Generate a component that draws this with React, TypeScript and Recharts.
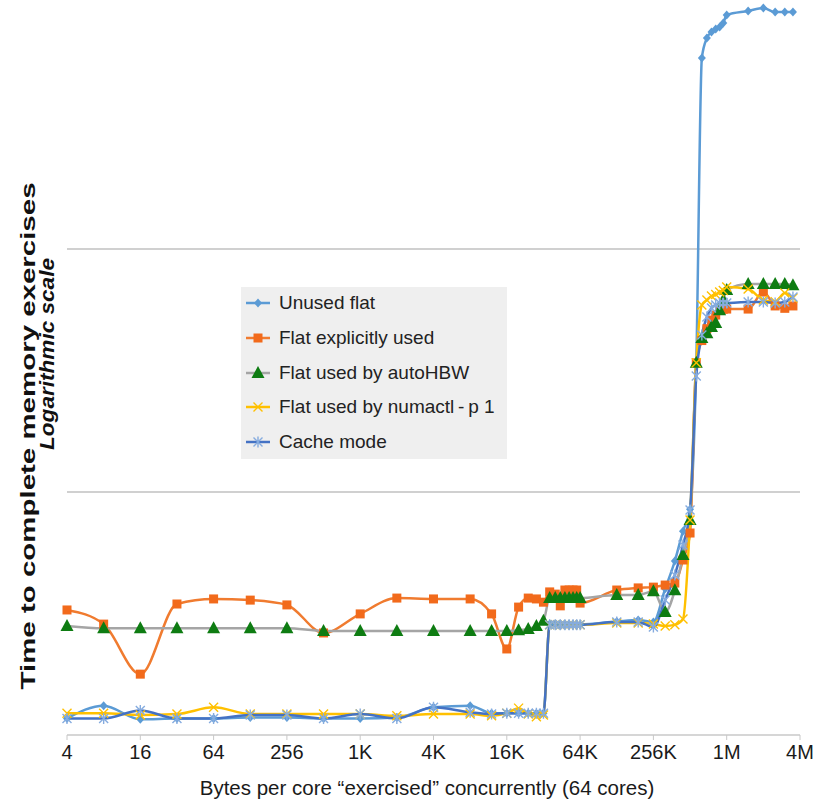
import React from 'react';
import { LineChart, Line, XAxis, YAxis, ReferenceLine, Legend } from 'recharts';

document.body.style.margin = '0';

// bytes per core (x), shared by every series
const sizes = [
  4, 8, 16, 32, 64, 128, 256, 512, 1024, 2048, 4096, 8192, 12288, 16384, 20480, 24576, 28672, 32768,
  36864, 40960, 45056, 49152, 53248, 57344, 61440, 65536, 131072, 196608, 262144, 327680, 393216,
  458752, 524288, 589824, 655360, 720896, 786432, 851968, 917504, 983040, 1048576, 1572864, 2097152,
  2621440, 3145728, 3670016,
];

const unusedFlat = [
  1.17, 1.32, 1.16, 1.17, 1.17, 1.18, 1.18, 1.17, 1.17, 1.18, 1.3, 1.32, 1.23, 1.23, 1.23, 1.23, 1.23, 1.23,
  2.86, 2.86, 2.85, 2.85, 2.85, 2.85, 2.85, 2.85, 2.93, 2.97, 2.92, 4.0, 5.2, 6.9, 8.5, 34, 611, 738, 782,
  804, 820, 851, 918, 954, 981, 944, 944, 944,
];
const explicitUsed = [
  3.27, 2.86, 1.78, 3.46, 3.63, 3.59, 3.43, 2.63, 3.15, 3.66, 3.63, 3.63, 3.15, 2.26, 3.36, 3.66, 3.63, 3.52,
  3.88, 3.8, 3.4, 3.95, 3.95, 3.95, 3.95, 3.49, 3.95, 4.03, 4.06, 4.14, 4.22, 5.25, 6.78, 34, 42, 47, 51,
  53.5, 56, 56.5, 56.6, 56.6, 66.5, 58.3, 57, 58.3,
];
const autoHbw = [
  2.81, 2.75, 2.75, 2.75, 2.75, 2.75, 2.75, 2.68, 2.68, 2.68, 2.68, 2.68, 2.68, 2.68, 2.7, 2.73, 2.81, 2.95,
  3.66, 3.66, 3.66, 3.66, 3.66, 3.66, 3.66, 3.66, 3.77, 3.77, 3.9, 3.21, 3.94, 5.5, 7.67, 34, 43, 45, 47.8,
  49.6, 56, 61.7, 67.8, 71.8, 71.8, 71.8, 71.8, 71,
];
const numactl = [
  1.23, 1.23, 1.21, 1.22, 1.3, 1.22, 1.22, 1.22, 1.22, 1.2, 1.22, 1.22, 1.2, 1.23, 1.29, 1.22, 1.19, 1.21,
  2.84, 2.84, 2.84, 2.84, 2.84, 2.84, 2.84, 2.84, 2.89, 2.89, 2.86, 2.81, 2.84, 3.0, 7.67, 34, 58.8, 61.7, 64,
  65, 66.5, 67.5, 69.8, 68.4, 61.7, 60.6, 65.9, 62.9,
];
const cacheMode = [
  1.17, 1.17, 1.26, 1.17, 1.17, 1.21, 1.21, 1.17, 1.22, 1.17, 1.3, 1.24, 1.22, 1.23, 1.23, 1.23, 1.23, 1.23,
  2.84, 2.84, 2.84, 2.84, 2.84, 2.84, 2.84, 2.84, 2.92, 2.92, 2.78, 3.59, 4.55, 6.05, 8.43, 30, 44.3, 52.5,
  57.2, 58.8, 60, 60, 60, 60.5, 60.5, 60, 60.5, 63.4,
];

const tickValues = [4, 16, 64, 256, 1024, 4096, 16384, 65536, 262144, 1048576, 4194304];
const tickLabels = ['4', '16', '64', '256', '1K', '4K', '16K', '64K', '256K', '1M', '4M'];

const rows = sizes.map((x, i) => ({
  x,
  unused: unusedFlat[i],
  explicit: explicitUsed[i],
  autohbw: autoHbw[i],
  numactl: numactl[i],
  cache: cacheMode[i],
}));

type Shape = 'diamond' | 'square' | 'triangle' | 'cross' | 'star';

const series: { key: string; name: string; stroke: string; marker: string; shape: Shape }[] = [
  { key: 'unused', name: 'Unused flat', stroke: '#5B9BD5', marker: '#5B9BD5', shape: 'diamond' },
  { key: 'explicit', name: 'Flat explicitly used', stroke: '#F07B2F', marker: '#F26A1B', shape: 'square' },
  { key: 'autohbw', name: 'Flat used by autoHBW', stroke: '#A5A5A5', marker: '#0E7C12', shape: 'triangle' },
  { key: 'numactl', name: 'Flat used by numactl\u2009-\u2009p 1', stroke: '#FFC000', marker: '#FFC000', shape: 'cross' },
  { key: 'cache', name: 'Cache mode', stroke: '#4472C4', marker: '#86ACDF', shape: 'star' },
];

function Marker({ cx, cy, shape, color }: { cx: number; cy: number; shape: Shape; color: string }) {
  switch (shape) {
    case 'diamond':
      return <polygon points={`${cx},${cy - 4.5} ${cx + 4},${cy} ${cx},${cy + 4.5} ${cx - 4},${cy}`} fill={color} />;
    case 'square':
      return <rect x={cx - 4.5} y={cy - 4.5} width={9} height={9} fill={color} />;
    case 'triangle':
      return <polygon points={`${cx},${cy - 7} ${cx + 6.5},${cy + 5} ${cx - 6.5},${cy + 5}`} fill={color} />;
    case 'cross':
      return (
        <path
          d={`M${cx - 4.5},${cy - 4.5}L${cx + 4.5},${cy + 4.5}M${cx + 4.5},${cy - 4.5}L${cx - 4.5},${cy + 4.5}`}
          stroke={color}
          strokeWidth={1.4}
        />
      );
    default:
      return (
        <path
          d={`M${cx - 4.5},${cy - 4.5}L${cx + 4.5},${cy + 4.5}M${cx + 4.5},${cy - 4.5}L${cx - 4.5},${cy + 4.5}M${cx},${cy - 5.5}L${cx},${cy + 5.5}`}
          stroke={color}
          strokeWidth={1.4}
        />
      );
  }
}

const dotFor = (shape: Shape, color: string) => (props: any) => {
  const { cx, cy, index } = props;
  if (cx == null || cy == null) return <g key={`e-${index}`} />;
  return (
    <g key={`m-${index}`}>
      <Marker cx={cx} cy={cy} shape={shape} color={color} />
    </g>
  );
};

function LegendBox() {
  return (
    <div
      style={{
        width: 266,
        height: 172,
        background: '#EFEFEF',
        boxSizing: 'border-box',
        paddingTop: 1,
        fontFamily: '"Liberation Sans", Arial, sans-serif',
        fontSize: 19,
        color: '#222',
      }}
    >
      {series.map((s, i) => (
        <div key={s.key} style={{ position: 'absolute', left: 0, top: 16 + i * 34.8 - 12, height: 24, display: 'flex', alignItems: 'center' }}>
          <svg width={34} height={24} style={{ display: 'block' }}>
            <line x1={5} x2={29} y1={12} y2={12} stroke={s.stroke} strokeWidth={2.5} />
            <Marker cx={17} cy={12} shape={s.shape} color={s.marker} />
          </svg>
          <span style={{ marginLeft: 4, whiteSpace: 'nowrap' }}>{s.name}</span>
        </div>
      ))}
    </div>
  );
}

export default function App() {
  return (
    <div style={{ position: 'relative', width: 827, height: 799, background: '#fff' }}>
      <LineChart width={827} height={799} data={rows} margin={{ top: 6, right: 27, bottom: 34, left: 67 }}>
        <XAxis
          dataKey="x"
          type="number"
          scale="log"
          domain={[4, 4194304]}
          ticks={tickValues}
          tickFormatter={(v: number) => tickLabels[tickValues.indexOf(v)] ?? ''}
          height={30}
          axisLine={{ stroke: '#C8C8C8', strokeWidth: 1.5 }}
          tickLine={{ stroke: '#C8C8C8' }}
          tickSize={5}
          tickMargin={5}
          tick={{ fill: '#1a1a1a', fontSize: 20, fontFamily: '"Liberation Sans", Arial, sans-serif' }}
          interval={0}
        />
        <YAxis type="number" scale="log" domain={[1, 1000]} hide />
        <ReferenceLine y={10} stroke="#C0C0C0" strokeWidth={1.5} />
        <ReferenceLine y={100} stroke="#C0C0C0" strokeWidth={1.5} />
        <Legend
          layout="vertical"
          align="center"
          verticalAlign="middle"
          wrapperStyle={{ left: 241, top: 287, width: 266, height: 172 }}
          content={() => <LegendBox />}
        />
        {series.map((s) => (
          <Line
            key={s.key}
            dataKey={s.key}
            name={s.name}
            type="monotone"
            stroke={s.stroke}
            strokeWidth={2.5}
            dot={dotFor(s.shape, s.marker)}
            activeDot={false}
            isAnimationActive={false}
          />
        ))}
      </LineChart>
      <svg
        width={827}
        height={799}
        style={{ position: 'absolute', left: 0, top: 0, pointerEvents: 'none' }}
        fontFamily='"Liberation Sans", Arial, sans-serif'
      >
        <text
          x={0}
          y={0}
          transform="translate(27,436) rotate(-90)"
          textAnchor="middle"
          dominantBaseline="central"
          fontSize={21}
          fontWeight="bold"
          fill="#111"
          textLength={507}
          lengthAdjust="spacingAndGlyphs"
        >
          Time to complete memory exercises
        </text>
        <text
          x={0}
          y={0}
          transform="translate(47,354) rotate(-90)"
          textAnchor="middle"
          dominantBaseline="central"
          fontSize={20}
          fontWeight="bold"
          fontStyle="italic"
          fill="#111"
          textLength={192}
          lengthAdjust="spacingAndGlyphs"
        >
          Logarithmic scale
        </text>
        <text x={427} y={787} textAnchor="middle" dominantBaseline="central" fontSize={20.5} fill="#1a1a1a">
          Bytes per core “exercised” concurrently (64 cores)
        </text>
      </svg>
    </div>
  );
}
